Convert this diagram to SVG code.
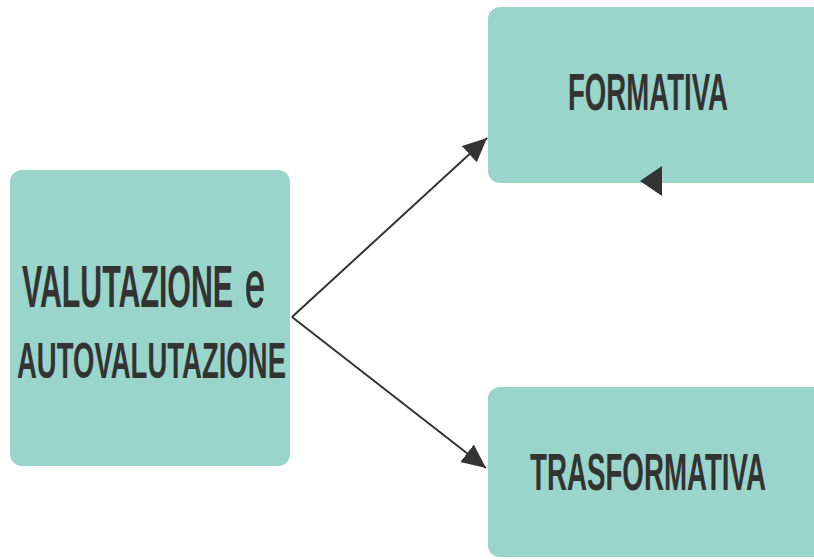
<svg xmlns="http://www.w3.org/2000/svg" width="814" height="560" viewBox="0 0 814 560">
  <style>
    .box { fill: #99d5ca; }
    .lbl { font-family: "Liberation Sans", Arial, sans-serif; font-weight: bold; fill: #333333; }
    .thin { font-family: "Liberation Sans", Arial, sans-serif; font-weight: normal; fill: #333333; }
    .edge { stroke: #333333; stroke-width: 2; fill: none; }
  </style>
  <defs>
    <marker id="arrow" markerUnits="userSpaceOnUse" markerWidth="26" markerHeight="24" refX="24" refY="11" orient="auto">
      <path d="M0,0 L24,11 L0,22 Z" fill="#333333"/>
    </marker>
  </defs>
  <rect width="814" height="560" fill="#ffffff"/>

  <g id="node-valutazione">
    <rect class="box" x="10" y="170" width="280" height="296" rx="12"/>
    <text class="lbl" transform="translate(22,307) scale(1,1.95)" font-size="30" textLength="211" lengthAdjust="spacingAndGlyphs">VALUTAZIONE</text>
    <text class="thin" transform="translate(245,307) scale(1,1.87)" font-size="36" stroke="#333333" stroke-width="0.6">e</text>
    <text class="lbl" transform="translate(17,378) scale(1,1.8)" font-size="28" textLength="269" lengthAdjust="spacingAndGlyphs">AUTOVALUTAZIONE</text>
  </g>

  <g id="node-formativa">
    <rect class="box" x="488" y="7" width="340" height="176" rx="12"/>
    <text class="lbl" transform="translate(568,110) scale(1,1.85)" font-size="28" textLength="160" lengthAdjust="spacingAndGlyphs">FORMATIVA</text>
  </g>

  <g id="node-trasformativa">
    <rect class="box" x="488" y="387" width="340" height="170" rx="12"/>
    <text class="lbl" transform="translate(530,490) scale(1,1.85)" font-size="28" textLength="236" lengthAdjust="spacingAndGlyphs">TRASFORMATIVA</text>
  </g>

  <!-- connectors sit above the boxes so the loose arrowhead stays visible -->
  <g id="connectors">
    <line class="edge" x1="292" y1="317" x2="487" y2="138" marker-end="url(#arrow)"/>
    <line class="edge" x1="292" y1="317" x2="486" y2="468" marker-end="url(#arrow)"/>
    <polygon points="640,181 662,166 662,196" fill="#333333"/>
  </g>
</svg>
